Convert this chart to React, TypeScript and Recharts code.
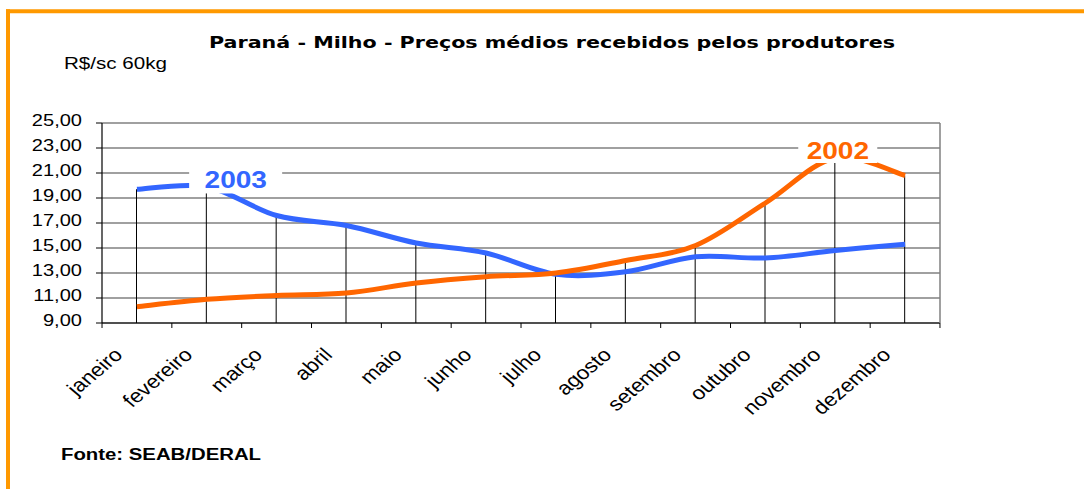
import React from 'react';
import { ComposedChart, Line, Bar, XAxis, YAxis, CartesianGrid, LabelList } from 'recharts';

const months = ['janeiro', 'fevereiro', 'março', 'abril', 'maio', 'junho', 'julho', 'agosto', 'setembro', 'outubro', 'novembro', 'dezembro'];
const price2002 = [10.3, 10.9, 11.2, 11.4, 12.2, 12.7, 13.0, 14.0, 15.2, 18.6, 22.2, 20.8];
const price2003 = [19.7, 19.9, 17.6, 16.8, 15.4, 14.6, 12.9, 13.1, 14.3, 14.2, 14.8, 15.3];
const yTicks = [9, 11, 13, 15, 17, 19, 21, 23, 25];

const data = months.map((m, i) => ({
  month: m,
  y2002: price2002[i],
  y2003: price2003[i],
  drop: Math.max(price2002[i], price2003[i]),
}));

const FONT = "'Liberation Sans', Arial, sans-serif";
const HALF = 34.9;
const STRETCH = 1.18;

// Excel-like smoothed line (Catmull-Rom as cubic Bezier)
const excelSmooth: any = (context: any) => {
  let pts: number[][] = [];
  return {
    areaStart() {},
    areaEnd() {},
    lineStart() {
      pts = [];
    },
    point(x: number, y: number) {
      pts.push([+x, +y]);
    },
    lineEnd() {
      const n = pts.length;
      if (!n) return;
      context.moveTo(pts[0][0], pts[0][1]);
      for (let i = 0; i < n - 1; i++) {
        const p0 = pts[i - 1] || pts[i];
        const p1 = pts[i];
        const p2 = pts[i + 1];
        const p3 = pts[i + 2] || pts[i + 1];
        context.bezierCurveTo(
          p1[0] + (p2[0] - p0[0]) / 6,
          p1[1] + (p2[1] - p0[1]) / 6,
          p2[0] - (p3[0] - p1[0]) / 6,
          p2[1] - (p3[1] - p1[1]) / 6,
          p2[0],
          p2[1]
        );
      }
    },
  };
};

const fmt = (v: number) => v.toFixed(2).replace('.', ',');

const YTick = (props: any) => {
  const { x, y, payload } = props;
  return (
    <g transform={`translate(${x},${y})`}>
      <text transform={`scale(${STRETCH},1)`} textAnchor="end" dy={2.5} fontSize={17} fontFamily={FONT} fill="#000">
        {fmt(payload.value)}
      </text>
    </g>
  );
};

const XTick = (props: any) => {
  const { x, y, payload, index } = props;
  return (
    <g>
      <line x1={x - HALF} x2={x - HALF} y1={y} y2={y + 5} stroke="#000" strokeWidth={1} />
      {index === months.length - 1 && <line x1={x + HALF} x2={x + HALF} y1={y} y2={y + 5} stroke="#000" strokeWidth={1} />}
      <g transform={`translate(${x - 13},${y + 33})`}>
        <text transform={`scale(${STRETCH},1) rotate(-45)`} textAnchor="end" fontSize={19} fontFamily={FONT} fill="#000">
          {payload.value}
        </text>
      </g>
    </g>
  );
};

const makeTag = (idx: number, text: string, color: string, box: { dx: number; dy: number; w: number; h: number }, tdx: number, tdy: number) =>
  (props: any) => {
    if (props.index !== idx) return null;
    const px = props.viewBox?.x ?? props.x;
    const py = props.viewBox?.y ?? props.y;
    return (
      <g>
        <rect x={px + box.dx} y={py + box.dy} width={box.w} height={box.h} fill="#fff" />
        <g transform={`translate(${px + tdx},${py + tdy})`}>
          <text transform="scale(1.22,1)" textAnchor="middle" fontSize={23} fontWeight="bold" fontFamily={FONT} fill={color}>
            {text}
          </text>
        </g>
      </g>
    );
  };

const tag2003 = makeTag(1, '2003', '#3366FF', { dx: -17.6, dy: -19.3, w: 93, h: 26 }, 29, 1.5);
const tag2002 = makeTag(10, '2002', '#FF6600', { dx: -37, dy: -20.5, w: 79, h: 25.5 }, 2.6, 1);

export default function App() {
  return (
    <div style={{ position: 'absolute', left: 0, top: 0, width: 1084, height: 489, background: '#fff' }}>
      <ComposedChart width={1084} height={489} data={data} margin={{ top: 123, right: 144, bottom: 136, left: 0 }}>
        <CartesianGrid horizontal vertical={false} stroke="#808080" strokeWidth={1.5} />
        <XAxis
          dataKey="month"
          scale="band"
          height={30}
          interval={0}
          tickSize={0}
          tickMargin={0}
          tickLine={false}
          axisLine={{ stroke: '#000', strokeWidth: 1.2 }}
          tick={<XTick />}
        />
        <YAxis
          width={102}
          domain={[9, 25]}
          ticks={yTicks}
          interval={0}
          allowDataOverflow
          tickSize={6}
          tickMargin={14}
          tickLine={{ stroke: '#000' }}
          axisLine={{ stroke: '#000', strokeWidth: 1.2 }}
          tick={<YTick />}
        />
        <Bar dataKey="drop" barSize={1} fill="#000" isAnimationActive={false} />
        <Line dataKey="y2003" type={excelSmooth} stroke="#3366FF" strokeWidth={5} dot={false} activeDot={false} isAnimationActive={false}>
          <LabelList content={tag2003} />
        </Line>
        <Line dataKey="y2002" type={excelSmooth} stroke="#FF6600" strokeWidth={5} dot={false} activeDot={false} isAnimationActive={false}>
          <LabelList content={tag2002} />
        </Line>
      </ComposedChart>
      <svg width={1084} height={489} style={{ position: 'absolute', left: 0, top: 0, pointerEvents: 'none' }}>
        <line x1={6} x2={1084} y1={11.2} y2={11.2} stroke="#FF9900" strokeWidth={4} />
        <line x1={8} x2={8} y1={9.2} y2={489} stroke="#FF9900" strokeWidth={4} />
        <line x1={940} x2={940} y1={123} y2={323} stroke="#808080" strokeWidth={1.5} />
        <text x={552} y={48} textAnchor="middle" fontFamily="'Comic Sans MS', 'DejaVu Sans', sans-serif" fontWeight="bold" fontSize={16} textLength={686} lengthAdjust="spacingAndGlyphs" fill="#000">
          Paraná - Milho - Preços médios recebidos pelos produtores
        </text>
        <text x={64} y={69} fontFamily={FONT} fontSize={17} textLength={103} lengthAdjust="spacingAndGlyphs" fill="#000">
          R$/sc 60kg
        </text>
        <text x={61} y={460} fontFamily={FONT} fontWeight="bold" fontSize={16} textLength={200} lengthAdjust="spacingAndGlyphs" fill="#000">
          Fonte: SEAB/DERAL
        </text>
      </svg>
    </div>
  );
}
